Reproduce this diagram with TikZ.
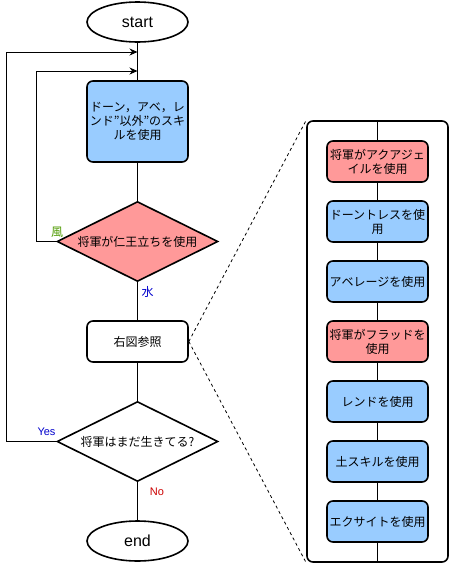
\documentclass[tikz,border=0pt]{standalone}
\usepackage{fontspec}
\setmainfont{Liberation Sans}
\newfontfamily\jp{Noto Sans CJK JP}
\usetikzlibrary{shapes.geometric,arrows.meta}
\definecolor{boxblue}{HTML}{99CCFF}
\definecolor{boxred}{HTML}{FF9999}
\definecolor{lblgreen}{HTML}{4D9900}
\definecolor{lblblue}{HTML}{0000CC}
\definecolor{lblred}{HTML}{CC0000}
\begin{document}
\begin{tikzpicture}[x=1pt,y=-1pt,
  term/.style={ellipse,draw,line width=1.6pt,minimum width=101pt,minimum height=40pt,inner sep=0pt,font=\fontsize{16}{18}\selectfont},
  proc/.style={rectangle,rounded corners=6pt,draw,line width=1.6pt,minimum width=101pt,minimum height=41pt,inner sep=0pt,align=center,font=\jp\fontsize{12}{14}\selectfont},
  dec/.style={diamond,draw,line width=1.6pt,minimum width=161pt,minimum height=80pt,inner sep=0pt,aspect=2,font=\jp\fontsize{12}{14}\selectfont},
  conn/.style={line width=1pt},
  arr/.style={conn,-{Stealth[length=8pt,width=7pt]}},
  lbl/.style={font=\fontsize{11}{13}\selectfont,inner sep=0pt},
  jlbl/.style={font=\jp\fontsize{12}{14}\selectfont,inner sep=0pt},
  dashline/.style={line width=0.8pt,dash pattern=on 3pt off 3pt},
]
\useasboundingbox (0,0) rectangle (449,563);

% main flow
\node[term] (start) at (137.5,22) {start};
\node[proc,fill=boxblue,minimum height=81pt] (skill) at (137.5,121.5) {ドーン，アベ，レ\\ンド”以外”のスキ\\ルを使用};
\node[dec,fill=boxred] (d1) at (137.5,241.5) {将軍が仁王立ちを使用};
\node[proc] (ref) at (137.5,341.5) {右図参照};
\node[dec] (d2) at (137.5,441.5) {将軍はまだ生きてる?};
\node[term] (end) at (137.5,541) {end};

\coordinate (j1) at (137.5,52);
\coordinate (j2) at (137.5,71);

\draw[conn] (start) -- (skill);
\draw[conn] (skill) -- (d1);
\draw[conn] (d1) -- (ref);
\draw[conn] (ref) -- (d2);
\draw[conn] (d2) -- (end);

\draw[arr] (d1.west) -- ++(-20,0) |- (j2);
\draw[arr] (d2.west) -- ++(-50,0) |- (j1);

\node[jlbl,text=lblgreen] (lw) at (57,232) {風};
\node[jlbl,text=lblblue] (lm) at (147.5,292) {水};
\node[lbl,text=lblblue] (ly) at (46.5,432) {Yes};
\node[lbl,text=lblred] (ln) at (157,492) {No};

% right container
\node[rectangle,draw,rounded corners=6pt,line width=1.6pt,minimum width=141pt,minimum height=441pt,inner sep=0pt] (cont) at (377.5,341.5) {};
\draw[conn] (cont.north) -- (cont.south);

\node[proc,fill=boxred] (r1) at (377.5,161.5) {将軍がアクアジェ\\イルを使用};
\node[proc,fill=boxblue] (r2) at (377.5,221.5) {ドーントレスを使\\用};
\node[proc,fill=boxblue] (r3) at (377.5,281.5) {アベレージを使用};
\node[proc,fill=boxred] (r4) at (377.5,341.5) {将軍がフラッドを\\使用};
\node[proc,fill=boxblue] (r5) at (377.5,401.5) {レンドを使用};
\node[proc,fill=boxblue] (r6) at (377.5,461.5) {土スキルを使用};
\node[proc,fill=boxblue] (r7) at (377.5,521.5) {エクサイトを使用};

\draw[dashline] (ref.east) -- (cont.north west);
\draw[dashline] (ref.east) -- (cont.south west);
\end{tikzpicture}
\end{document}
